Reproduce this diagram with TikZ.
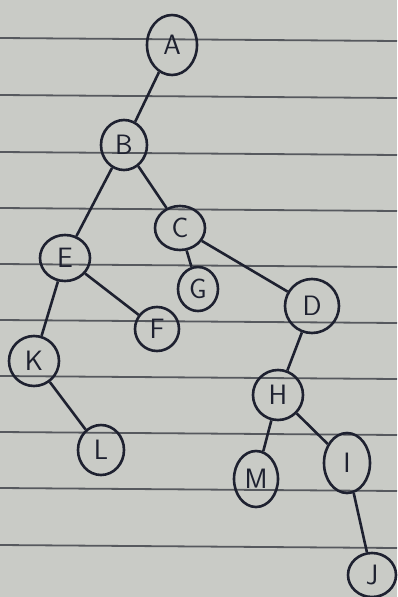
\documentclass[tikz,border=0pt]{standalone}
\usepackage{xcolor}
\usetikzlibrary{shapes.geometric}
\definecolor{ink}{HTML}{1E2130}
\definecolor{paper}{HTML}{C9CBC6}
\definecolor{rule}{HTML}{3A3D44}

\begin{document}
\begin{tikzpicture}[x=1pt, y=-1pt, vertex/.style={ellipse, draw=ink, line width=2.6pt, inner sep=0pt, font=\sffamily\fontsize{28}{28}\selectfont, text=ink}, edge/.style={ink, line width=2.6pt}]
\fill[paper] (0,0) rectangle (397,597);
\useasboundingbox (0,0) rectangle (397,597);
\foreach \y in {38,95,152,208,264,320,376,432,488,545}
  \draw[rule, line width=1.8pt, opacity=0.8] (0,\y) -- (397,\y+3);
\node (a) [vertex, minimum width=50pt, minimum height=60pt] at (172,45) {A};
\node (b) [vertex, minimum width=46pt, minimum height=50pt] at (124,145) {B};
\node (c) [vertex, minimum width=50pt, minimum height=44pt] at (180,228) {C};
\node (e) [vertex, minimum width=50pt, minimum height=46pt] at (65,258) {E};
\node (g) [vertex, minimum width=40pt, minimum height=44pt] at (198,289) {G};
\node (d) [vertex, minimum width=54pt, minimum height=54pt] at (312,306) {D};
\node (f) [vertex, minimum width=44pt, minimum height=44pt] at (157,329) {F};
\node (k) [vertex, minimum width=50pt, minimum height=50pt] at (34,361) {K};
\node (h) [vertex, minimum width=50pt, minimum height=50pt] at (278,395) {H};
\node (l) [vertex, minimum width=46pt, minimum height=50pt] at (101,450) {L};
\node (m) [vertex, minimum width=44pt, minimum height=56pt] at (256,479) {M};
\node (i) [vertex, minimum width=46pt, minimum height=60pt] at (347,463) {I};
\node (j) [vertex, minimum width=48pt, minimum height=44pt] at (372,575) {J};
\draw [edge] (a) -- (b);
\draw [edge] (b) -- (e);
\draw [edge] (b) -- (c);
\draw [edge] (c) -- (g);
\draw [edge] (c) -- (d);
\draw [edge] (e) -- (f);
\draw [edge] (e) -- (k);
\draw [edge] (k) -- (l);
\draw [edge] (d) -- (h);
\draw [edge] (h) -- (m);
\draw [edge] (h) -- (i);
\draw [edge] (i) -- (j);
\end{tikzpicture}
\end{document}
